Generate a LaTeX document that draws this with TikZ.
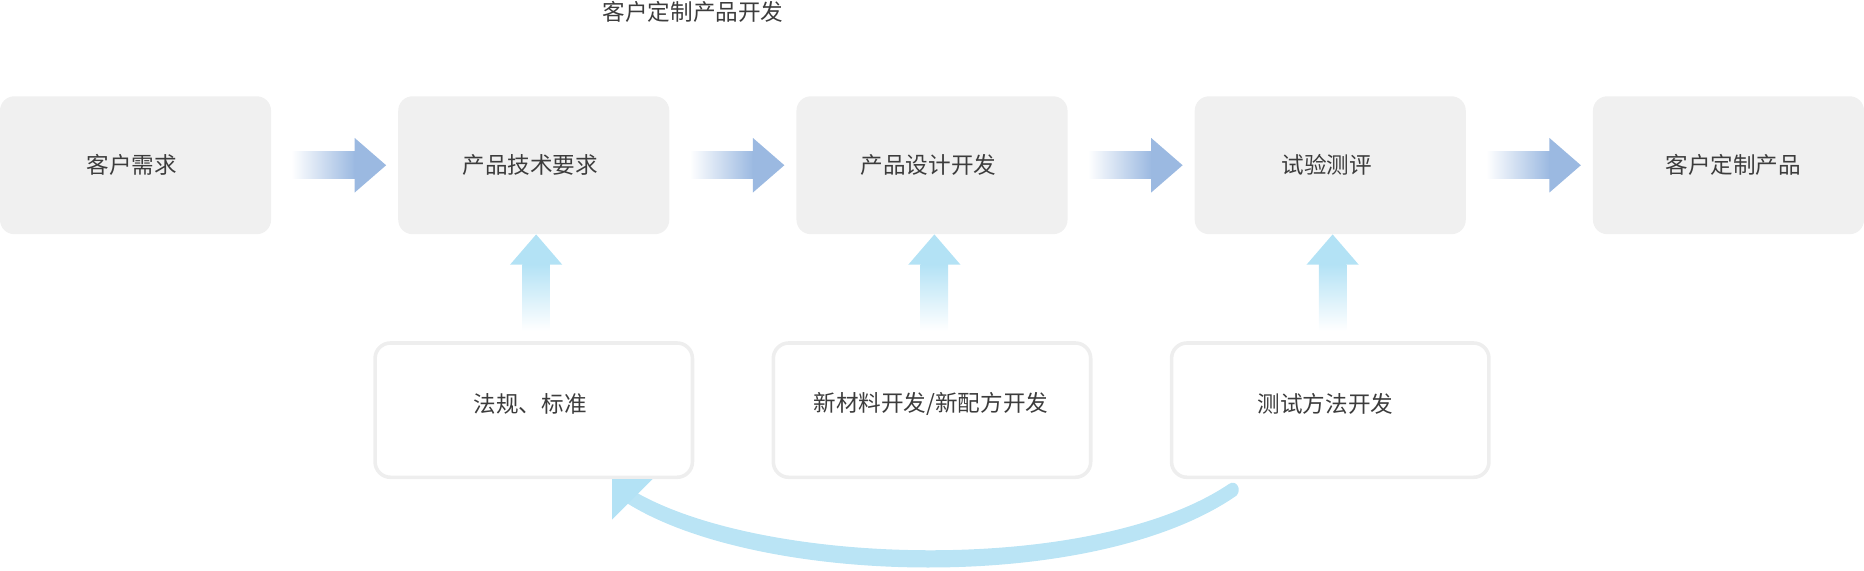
\documentclass[tikz,border=0pt]{standalone}
\usepackage{fontspec}
\newfontfamily\cjk{Noto Sans CJK SC}
\usetikzlibrary{calc}
\definecolor{boxgray}{HTML}{F0F0F0}
\definecolor{bordergray}{HTML}{EEEEEE}
\definecolor{txt}{HTML}{3C3C3C}
\definecolor{hblue}{HTML}{9BB9E1}
\definecolor{vblue}{HTML}{B3E2F5}
\definecolor{cblue}{HTML}{BAE4F5}
\begin{document}
\begin{tikzpicture}[x=1pt,y=-1pt,
  every node/.style={font=\cjk\fontsize{19}{22}\selectfont, text=txt},
  topbox/.style={fill=boxgray, rounded corners=12pt, minimum width=228pt, minimum height=116pt, inner sep=0pt},
  lowbox/.style={draw=bordergray, line width=3pt, fill=white, rounded corners=13pt, minimum width=267pt, minimum height=113pt, inner sep=0pt},
  lbl/.style={inner sep=0pt}]
\useasboundingbox (0,0) rectangle (1568,480);

\node[lbl] (title) at (583,10) {客户定制产品开发};

\node[topbox] (b1) at (114,139) {};
\node[topbox] (b2) at (449,139) {};
\node[topbox] (b3) at (784,139) {};
\node[topbox] (b4) at (1119,139) {};
\node[topbox] (b5) at (1454,139) {};
\node[lbl] (t1) at ($(b1)+(-3,0)$) {客户需求};
\node[lbl] (t2) at ($(b2)+(-3,0)$) {产品技术要求};
\node[lbl] (t3) at ($(b3)+(-3,0)$) {产品设计开发};
\node[lbl] (t4) at ($(b4)+(-3,0)$) {试验测评};
\node[lbl] (t5) at ($(b5)+(4,0)$) {客户定制产品};

\node[lowbox] (l1) at (449,345) {};
\node[lowbox] (l2) at (784,345) {};
\node[lowbox] (l3) at (1119,345) {};
\node[lbl] (s1) at ($(l1)+(-3,-5)$) {法规、标准};
\node[lbl] (s2) at ($(l2)+(-1,-5)$) {新材料开发/新配方开发};
\node[lbl] (s3) at ($(l3)+(-4,-5)$) {测试方法开发};

% horizontal arrows
\foreach \a/\b in {b1/b2,b2/b3,b3/b4,b4/b5}{
  \coordinate (hs) at ($(\a.east)+(17,0)$);
  \coordinate (ht) at ($(\b.west)+(-10,0)$);
  \shade[left color=white, right color=hblue] ($(hs)+(0,-11.5)$) rectangle ($(ht)+(-26,11.5)$);
  \fill[hblue] ($(ht)+(-26.5,-23)$) -- (ht) -- ($(ht)+(-26.5,23)$) -- cycle;
}

% vertical arrows
\foreach \a/\b in {l1/b2,l2/b3,l3/b4}{
  \coordinate (vt) at ($(\b.south)+(2,0)$);
  \coordinate (vs) at ($(\a.north)+(2,-9)$);
  \shade[top color=vblue, bottom color=white] ($(vt)+(-11.5,25)$) rectangle ($(vs)+(11.5,0)$);
  \fill[vblue] ($(vt)+(-22,25.5)$) -- (vt) -- ($(vt)+(22,25.5)$) -- cycle;
}

% curved feedback arrow from l3 to l1
\coordinate (ct) at ($(l1.south)+(66,0)$);
\coordinate (cs) at ($(l3.south west)+(53,9)$);
\fill[cblue] ($(ct)+(18,10)$) .. controls ($(ct)+(127,74)$) and ($(ct)+(405,81)$) .. ($(cs)+(-3,-5)$)
  .. controls ($(cs)+(3,-9)$) and ($(cs)+(8,0)$) .. ($(cs)+(3,5)$)
  .. controls ($(ct)+(405,97)$) and ($(ct)+(123,90)$) .. ($(ct)+(12,20)$) -- cycle;
\fill[vblue] (ct) -- ++(34,0) -- ++(-34,34) -- cycle;
\end{tikzpicture}
\end{document}
